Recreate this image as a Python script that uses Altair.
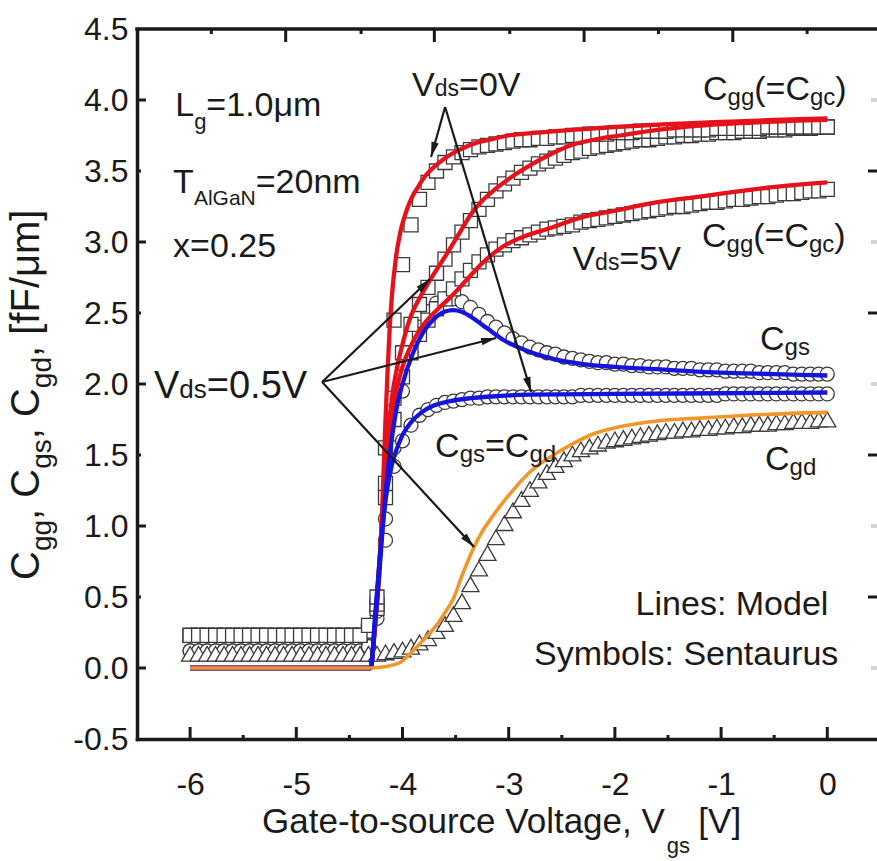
import math
import altair as alt
import pandas as pd

FONT = "Liberation Sans"
INK = "#1a1a1a"
SYM_EDGE = "#3a3a3a"
RED = "#e5121c"
BLUE = "#1414dc"
ORANGE = "#f2952a"

# plot frame (pixels) and axis ranges
PLOT_W, PLOT_H = 740, 710
X_DOMAIN = [-6.5, 0.468]
Y_DOMAIN = [-0.5, 4.5]
PX_PER_V = PLOT_W / (X_DOMAIN[1] - X_DOMAIN[0])
PX_PER_C = PLOT_H / (Y_DOMAIN[1] - Y_DOMAIN[0])

# ---------------------------------------------------------------- data
# Sentaurus sweep points (gate voltage, V)
VGS_SIM = [
    -6.00, -5.92, -5.84, -5.76, -5.68, -5.60, -5.52, -5.44, -5.36, -5.28,
    -5.20, -5.12, -5.04, -4.96, -4.88, -4.80, -4.72, -4.64, -4.56, -4.48,
    -4.40, -4.32, -4.24, -4.16, -4.08, -4.00, -3.92, -3.84, -3.76, -3.68,
    -3.60, -3.52, -3.44, -3.36, -3.28, -3.20, -3.12, -3.04, -2.96, -2.88,
    -2.80, -2.72, -2.64, -2.56, -2.48, -2.40, -2.32, -2.24, -2.16, -2.08,
    -2.00, -1.92, -1.84, -1.76, -1.68, -1.60, -1.52, -1.44, -1.36, -1.28,
    -1.20, -1.12, -1.04, -0.96, -0.88, -0.80, -0.72, -0.64, -0.56, -0.48,
    -0.40, -0.32, -0.24, -0.16, -0.08, 0.00,
]
CGG_0V_SIM = [
    0.23, 0.23, 0.23, 0.23, 0.23, 0.23, 0.23, 0.23, 0.23, 0.23,
    0.23, 0.23, 0.23, 0.23, 0.23, 0.23, 0.23, 0.23, 0.23, 0.23,
    0.23, 0.30, 0.50, 1.55, 2.45, 2.84, 3.12, 3.30, 3.42, 3.50,
    3.56, 3.60, 3.63, 3.65, 3.67, 3.68, 3.69, 3.70, 3.71, 3.72,
    3.72, 3.73, 3.73, 3.74, 3.74, 3.75, 3.75, 3.76, 3.76, 3.76,
    3.77, 3.77, 3.77, 3.78, 3.78, 3.78, 3.78, 3.79, 3.79, 3.79,
    3.79, 3.79, 3.80, 3.80, 3.80, 3.80, 3.80, 3.80, 3.81, 3.81,
    3.81, 3.81, 3.81, 3.81, 3.81, 3.81,
]
CGG_05V_SIM = [
    0.23, 0.23, 0.23, 0.23, 0.23, 0.23, 0.23, 0.23, 0.23, 0.23,
    0.23, 0.23, 0.23, 0.23, 0.23, 0.23, 0.23, 0.23, 0.23, 0.23,
    0.23, 0.26, 0.45, 1.30, 1.90, 2.22, 2.42, 2.56, 2.68, 2.78,
    2.88, 2.98, 3.07, 3.15, 3.23, 3.30, 3.36, 3.41, 3.45, 3.49,
    3.52, 3.55, 3.57, 3.59, 3.61, 3.63, 3.64, 3.66, 3.67, 3.68,
    3.69, 3.70, 3.71, 3.72, 3.72, 3.73, 3.74, 3.74, 3.75, 3.75,
    3.76, 3.76, 3.77, 3.77, 3.77, 3.78, 3.78, 3.78, 3.79, 3.79,
    3.79, 3.80, 3.80, 3.80, 3.81, 3.81,
]
CGG_5V_SIM = [
    0.23, 0.23, 0.23, 0.23, 0.23, 0.23, 0.23, 0.23, 0.23, 0.23,
    0.23, 0.23, 0.23, 0.23, 0.23, 0.23, 0.23, 0.23, 0.23, 0.23,
    0.23, 0.26, 0.42, 1.20, 1.75, 2.05, 2.22, 2.35, 2.45, 2.53,
    2.60, 2.67, 2.74, 2.80, 2.86, 2.91, 2.95, 2.98, 3.01, 3.03,
    3.05, 3.07, 3.09, 3.10, 3.11, 3.12, 3.14, 3.15, 3.16, 3.17,
    3.18, 3.19, 3.20, 3.21, 3.22, 3.23, 3.24, 3.25, 3.25, 3.26,
    3.27, 3.28, 3.28, 3.29, 3.30, 3.30, 3.31, 3.32, 3.32, 3.33,
    3.34, 3.34, 3.35, 3.36, 3.36, 3.37,
]
CGS_05V_SIM = [
    0.12, 0.12, 0.12, 0.12, 0.12, 0.12, 0.12, 0.12, 0.12, 0.12,
    0.12, 0.12, 0.12, 0.12, 0.12, 0.12, 0.12, 0.12, 0.12, 0.12,
    0.12, 0.15, 0.35, 0.90, 1.55, 1.95, 2.22, 2.40, 2.51, 2.57,
    2.60, 2.60, 2.58, 2.54, 2.49, 2.44, 2.40, 2.36, 2.32, 2.29,
    2.26, 2.24, 2.22, 2.21, 2.19, 2.18, 2.17, 2.16, 2.15, 2.15,
    2.14, 2.14, 2.13, 2.13, 2.12, 2.12, 2.12, 2.11, 2.11, 2.11,
    2.10, 2.10, 2.10, 2.09, 2.09, 2.09, 2.09, 2.08, 2.08, 2.08,
    2.08, 2.07, 2.07, 2.07, 2.07, 2.07,
]
CGS_EQ_CGD_0V_SIM = [
    0.12, 0.12, 0.12, 0.12, 0.12, 0.12, 0.12, 0.12, 0.12, 0.12,
    0.12, 0.12, 0.12, 0.12, 0.12, 0.12, 0.12, 0.12, 0.12, 0.12,
    0.12, 0.15, 0.40, 1.05, 1.42, 1.60, 1.71, 1.78, 1.82, 1.85,
    1.87, 1.88, 1.89, 1.90, 1.90, 1.91, 1.91, 1.91, 1.91, 1.91,
    1.91, 1.91, 1.91, 1.91, 1.91, 1.91, 1.92, 1.92, 1.92, 1.92,
    1.92, 1.92, 1.92, 1.92, 1.92, 1.92, 1.92, 1.92, 1.92, 1.92,
    1.92, 1.92, 1.92, 1.93, 1.93, 1.93, 1.93, 1.93, 1.93, 1.93,
    1.93, 1.93, 1.93, 1.93, 1.93, 1.93,
]
CGD_05V_SIM = [
    0.10, 0.10, 0.10, 0.10, 0.10, 0.10, 0.10, 0.10, 0.10, 0.10,
    0.10, 0.10, 0.10, 0.10, 0.10, 0.10, 0.10, 0.10, 0.10, 0.10,
    0.10, 0.10, 0.10, 0.11, 0.12, 0.13, 0.15, 0.18, 0.21, 0.26,
    0.31, 0.38, 0.47, 0.59, 0.70, 0.81, 0.92, 1.02, 1.11, 1.19,
    1.26, 1.32, 1.38, 1.43, 1.47, 1.51, 1.54, 1.56, 1.58, 1.60,
    1.61, 1.62, 1.63, 1.64, 1.65, 1.66, 1.67, 1.67, 1.68, 1.68,
    1.69, 1.69, 1.70, 1.70, 1.71, 1.71, 1.72, 1.72, 1.72, 1.73,
    1.73, 1.74, 1.74, 1.74, 1.75, 1.75,
]

# compact model curves
MODEL_GG_0V_V = [-6.00, -4.30, -4.27, -4.24, -4.22, -4.20, -4.18, -4.16, -4.14, -4.12,
                 -4.10, -4.06, -4.02, -3.98, -3.92, -3.86, -3.78, -3.70, -3.60, -3.46,
                 -3.30, -3.18, -3.00, -2.73, -2.40, -2.00, -1.50, -1.00, -0.50, 0.00]
MODEL_GG_0V_C = [0.00, 0.00, 0.20, 0.45, 0.65, 0.95, 1.35, 1.75, 2.10, 2.40,
                 2.62, 2.90, 3.07, 3.18, 3.30, 3.38, 3.47, 3.53, 3.59, 3.65,
                 3.70, 3.72, 3.75, 3.77, 3.79, 3.81, 3.83, 3.845, 3.86, 3.87]
MODEL_GG_05V_V = [-6.00, -4.30, -4.26, -4.22, -4.18, -4.14, -4.10, -4.05, -4.00, -3.92,
                  -3.85, -3.75, -3.58, -3.45, -3.36, -3.25, -3.13, -2.95, -2.80, -2.60,
                  -2.42, -2.20, -1.95, -1.60, -1.20, -0.60, 0.00]
MODEL_GG_05V_C = [0.00, 0.00, 0.30, 0.72, 1.20, 1.60, 1.90, 2.12, 2.28, 2.48,
                  2.59, 2.72, 2.92, 3.08, 3.19, 3.29, 3.37, 3.47, 3.54, 3.62,
                  3.68, 3.72, 3.75, 3.79, 3.82, 3.845, 3.86]
MODEL_GG_5V_V = [-6.00, -4.30, -4.26, -4.22, -4.18, -4.14, -4.10, -4.05, -4.00, -3.90,
                 -3.80, -3.65, -3.55, -3.40, -3.25, -3.05, -2.85, -2.60, -2.33, -2.00,
                 -1.60, -1.20, -0.60, 0.00]
MODEL_GG_5V_C = [0.00, 0.00, 0.30, 0.70, 1.12, 1.48, 1.75, 1.98, 2.12, 2.30,
                 2.42, 2.54, 2.61, 2.73, 2.85, 2.97, 3.04, 3.10, 3.17, 3.22,
                 3.28, 3.32, 3.38, 3.42]
MODEL_GS_05V_V = [-6.00, -4.30, -4.26, -4.22, -4.18, -4.14, -4.10, -4.05, -4.00, -3.90,
                  -3.80, -3.70, -3.60, -3.52, -3.45, -3.35, -3.20, -3.05, -2.85, -2.60,
                  -2.30, -2.00, -1.50, -1.00, -0.50, 0.00]
MODEL_GS_05V_C = [0.00, 0.00, 0.30, 0.65, 1.05, 1.38, 1.62, 1.85, 2.00, 2.22,
                  2.37, 2.46, 2.51, 2.52, 2.51, 2.47, 2.39, 2.31, 2.24, 2.18,
                  2.14, 2.12, 2.10, 2.08, 2.07, 2.06]
MODEL_GS_EQ_GD_0V_V = [-6.00, -4.30, -4.26, -4.22, -4.18, -4.14, -4.10, -4.05, -4.00, -3.92,
                       -3.82, -3.70, -3.55, -3.36, -3.10, -2.80, -2.00, -1.00, 0.00]
MODEL_GS_EQ_GD_0V_C = [0.00, 0.00, 0.35, 0.72, 1.05, 1.28, 1.43, 1.55, 1.64, 1.73,
                       1.80, 1.85, 1.88, 1.90, 1.915, 1.925, 1.93, 1.935, 1.94]
MODEL_GD_05V_V = [-6.00, -4.30, -4.15, -4.00, -3.93, -3.85, -3.75, -3.67, -3.60, -3.52,
                  -3.44, -3.34, -3.25, -3.15, -3.05, -2.95, -2.80, -2.60, -2.42, -2.20,
                  -1.95, -1.60, -1.20, -0.60, 0.00]
MODEL_GD_05V_C = [0.00, 0.00, 0.01, 0.05, 0.10, 0.16, 0.24, 0.31, 0.39, 0.49,
                  0.65, 0.83, 0.96, 1.07, 1.17, 1.26, 1.38, 1.49, 1.57, 1.65,
                  1.70, 1.74, 1.76, 1.785, 1.80]

# axis ticks
X_LABEL_TICKS = [-6, -5, -4, -3, -2, -1, 0]
X_MINOR_TICKS = [-5.5, -4.5, -3.5, -2.5, -1.5, -0.5]
Y_LABEL_TICKS = [-0.5, 0.0, 0.5, 1.0, 1.5, 2.0, 2.5, 3.0, 3.5, 4.0, 4.5]
Y_MAJOR_TICKS = [0.0, 1.0, 2.0, 3.0, 4.0]
Y_MINOR_TICKS = [0.5, 1.5, 2.5, 3.5]
TOP_LONG_TICKS = [-5.10, -3.70, -2.29, -0.89]
TOP_SHORT_TICKS = [-5.80, -4.39, -2.99, -1.59, -0.19]

# ---------------------------------------------------------------- frames
def sim_frame(series):
    rows = []
    for name, vals in series:
        for v, c in zip(VGS_SIM, vals):
            rows.append({"vgs": v, "c": c, "series": name})
    return pd.DataFrame(rows)


def model_frame(curves):
    rows = []
    for name, vs, cs in curves:
        for v, c in zip(vs, cs):
            rows.append({"vgs": v, "c": c, "curve": name})
    return pd.DataFrame(rows)


circles_df = sim_frame([("Cgs_0.5V", CGS_05V_SIM), ("Cgs=Cgd_0V", CGS_EQ_CGD_0V_SIM)])
squares_df = sim_frame([("Cgg_5V", CGG_5V_SIM), ("Cgg_0.5V", CGG_05V_SIM), ("Cgg_0V", CGG_0V_SIM)])
triangles_df = sim_frame([("Cgd_0.5V", CGD_05V_SIM)])

red_df = model_frame([
    ("Cgg_0V", MODEL_GG_0V_V, MODEL_GG_0V_C),
    ("Cgg_0.5V", MODEL_GG_05V_V, MODEL_GG_05V_C),
    ("Cgg_5V", MODEL_GG_5V_V, MODEL_GG_5V_C),
])
blue_df = model_frame([
    ("Cgs_0.5V", MODEL_GS_05V_V, MODEL_GS_05V_C),
    ("Cgs=Cgd_0V", MODEL_GS_EQ_GD_0V_V, MODEL_GS_EQ_GD_0V_C),
])
orange_df = model_frame([("Cgd_0.5V", MODEL_GD_05V_V, MODEL_GD_05V_C)])

# ---------------------------------------------------------------- scales / axes
xs = alt.Scale(domain=X_DOMAIN, nice=False, zero=False)
ys = alt.Scale(domain=Y_DOMAIN, nice=False, zero=False)

X_AXIS = alt.Axis(
    values=X_LABEL_TICKS, title="", ticks=False, grid=False,
    labelExpr="(datum.value < 0 ? '-' : '') + format(abs(datum.value), 'd')",
    labelFont=FONT, labelFontSize=32, labelColor=INK, labelPadding=30,
    labelFlush=False, domainColor=INK, domainWidth=3.5, domainCap="square",
)
Y_AXIS = alt.Axis(
    values=Y_LABEL_TICKS, title="", ticks=False, grid=False,
    labelExpr="(datum.value < 0 ? '-' : '') + format(abs(datum.value), '.1f')",
    labelFont=FONT, labelFontSize=32, labelColor=INK, labelPadding=9,
    labelFlush=False, domainColor=INK, domainWidth=3.5, domainCap="square",
)


def X(field="vgs"):
    return alt.X(f"{field}:Q", scale=xs, axis=X_AXIS)


def Y(field="c"):
    return alt.Y(f"{field}:Q", scale=ys, axis=Y_AXIS)


# ---------------------------------------------------------------- symbols
def symbols(df, shape, size):
    return alt.Chart(df).mark_point(
        shape=shape, size=size, filled=True, fill="white", stroke=SYM_EDGE,
        strokeWidth=1.3, opacity=1, fillOpacity=1, strokeOpacity=1,
    ).encode(x=X(), y=Y(), detail="series:N")


circle_layer = symbols(circles_df, "circle", 196)
square_layer = symbols(squares_df, "square", 196)
triangle_layer = symbols(triangles_df, "triangle-up", 289)


def model_lines(df, color, width):
    return alt.Chart(df).mark_line(
        color=color, strokeWidth=width, interpolate="monotone"
    ).encode(x=X(), y=Y(), detail="curve:N")


red_layer = model_lines(red_df, RED, 4.3)
blue_layer = model_lines(blue_df, BLUE, 4.3)
orange_layer = model_lines(orange_df, ORANGE, 3.6)

# ---------------------------------------------------------------- arrows
ARROWS = [
    # from the "Vds=0V" label
    (-3.599, 3.951, -3.731, 3.599),
    (-3.599, 3.951, -2.789, 1.944),
    # from the "Vds=0.5V" label
    (-4.757, 2.014, -3.740, 2.739),
    (-4.757, 2.014, -3.119, 2.324),
    (-4.757, 2.014, -3.326, 0.852),
]
arrow_rows, head_rows = [], []
for v0, c0, v1, c1 in ARROWS:
    arrow_rows.append({"vgs": v0, "c": c0, "v1": v1, "c1": c1})
    dx = (v1 - v0) * PX_PER_V
    dy = -(c1 - c0) * PX_PER_C
    ang = math.degrees(math.atan2(dx, -dy)) % 360
    head_rows.append({"vgs": v1, "c": c1, "ang": ang})

arrow_lines = alt.Chart(pd.DataFrame(arrow_rows)).mark_rule(
    color=INK, strokeWidth=2.2
).encode(x=X(), y=Y(), x2="v1:Q", y2="c1:Q")
arrow_heads = alt.Chart(pd.DataFrame(head_rows)).mark_point(
    shape="M0,0L0.5,2L-0.5,2Z", size=225, filled=True, color=INK,
    opacity=1, strokeWidth=0,
).encode(x=X(), y=Y(), angle=alt.Angle("ang:Q", scale=None))

# ---------------------------------------------------------------- frame ticks
def vticks(values, y_from, y_to, color=INK, width=3):
    return alt.Chart(pd.DataFrame({"vgs": values})).mark_rule(
        color=color, strokeWidth=width
    ).encode(x=X(), y=alt.value(y_from), y2=alt.value(y_to))


def hticks(values, x_from, x_to, color=INK, width=3):
    return alt.Chart(pd.DataFrame({"c": values})).mark_rule(
        color=color, strokeWidth=width
    ).encode(y=Y(), x=alt.value(x_from), x2=alt.value(x_to))


tick_layers = [
    vticks(X_LABEL_TICKS, PLOT_H, PLOT_H - 12),
    vticks(X_MINOR_TICKS, PLOT_H, PLOT_H - 4),
    vticks(TOP_LONG_TICKS, 0, 13),
    vticks(TOP_SHORT_TICKS, 0, 5),
    hticks(Y_MAJOR_TICKS, 0, 9),
    hticks(Y_MINOR_TICKS, 0, 4),
    hticks(Y_MINOR_TICKS, PLOT_W - 9, PLOT_W),
    hticks(Y_MAJOR_TICKS, PLOT_W - 6, PLOT_W, color="#d4d4d4", width=4),
]
top_border = alt.Chart(pd.DataFrame({"k": [0]})).mark_rule(
    color=INK, strokeWidth=3.5, strokeCap="square"
).encode(x=alt.value(0), x2=alt.value(PLOT_W), y=alt.value(0))

# ---------------------------------------------------------------- text
ADV = {" ": 278, "(": 333, ")": 333, ",": 278, "-": 333, ".": 278, "/": 278,
       ":": 278, "=": 584, "[": 278, "]": 278, "A": 667, "C": 722, "F": 611,
       "G": 778, "L": 556, "M": 833, "N": 722, "S": 667, "T": 611, "V": 667,
       "a": 556, "b": 556, "c": 500, "d": 556, "e": 556, "f": 278, "g": 556,
       "i": 222, "l": 222, "m": 833, "n": 556, "o": 556, "r": 333, "s": 500,
       "t": 278, "u": 556, "x": 500, "y": 500, "\u03bc": 576}


def advance(text, size):
    return sum(ADV.get(ch, 556) for ch in text) * size / 1000.0


def label(v, c, runs, angle=0, align="left"):
    """Lay out text runs (text, font size, baseline drop in px) from an anchor."""
    total = sum(advance(t, s) for t, s, _ in runs)
    cur = -total if align == "right" else 0.0
    rows = []
    for text, size, drop in runs:
        lead = len(text) - len(text.lstrip(" "))
        start = cur + advance(" " * lead, size)
        if angle == 0:
            rv, rc = v + start / PX_PER_V, c - drop / PX_PER_C
        else:
            rv, rc = v + drop / PX_PER_V, c + start / PX_PER_C
        rows.append({"vgs": rv, "c": rc, "txt": text.strip(" "), "fs": size, "ang": angle})
        cur += advance(text, size)
    return rows


MAIN = 34
SUB = 24
texts = []
texts += label(-6.14, 3.887, [("L", MAIN, 0), ("g", 22, 13), ("=1.0\u03bcm", MAIN, 0)])
texts += label(-6.16, 3.345, [("T", MAIN, 0), ("AlGaN", 21, 12), ("=20nm", MAIN, 0)])
texts += label(-6.16, 2.894, [("x=0.25", MAIN, 0)])
texts += label(-3.91, 4.028, [("V", MAIN, 0), ("ds", 23, 0), ("=0V", MAIN, 0)])
texts += label(-1.17, 4.000, [("C", MAIN, 0), ("gg", SUB, 5), ("(=C", MAIN, 0), ("gc", SUB, 5), (")", MAIN, 0)])
texts += label(-1.18, 2.965, [("C", MAIN, 0), ("gg", SUB, 5), ("(=C", MAIN, 0), ("gc", SUB, 5), (")", MAIN, 0)])
texts += label(-2.40, 2.800, [("V", MAIN, 0), ("ds", 23, 0), ("=5V", MAIN, 0)])
texts += label(-0.633, 2.240, [("C", MAIN, 0), ("gs", SUB, 5)])
texts += label(-0.586, 1.394, [("C", MAIN, 0), ("gd", SUB, 5)])
texts += label(-6.34, 1.901, [("V", 38, 0), ("ds", 26, 0), ("=0.5V", 38, 0)])
texts += label(-3.693, 1.486, [("C", MAIN, 0), ("gs", SUB, 5), ("=C", MAIN, 0), ("gd", SUB, 5)])
texts += label(0.010, 0.373, [("Lines: Model", MAIN, 0)], align="right")
texts += label(0.104, 0.021, [("Symbols: Sentaurus", MAIN, 0)], align="right")
# axis titles
texts += label(-5.322, -1.162, [("Gate-to-source Voltage, V", 35, 0), ("gs", 22, 20), (" [V]", 30, 0)])
texts[-1]["fs"] = 35
texts += label(-7.42, 0.62, [("C", 40, 0), ("gg", 28, 12), (", C", 40, 0), ("gs", 28, 12),
                             (", C", 40, 0), ("gd", 28, 12), (", [fF/\u03bcm]", 40, 0)], angle=270)

text_layer = alt.Chart(pd.DataFrame(texts)).mark_text(
    align="left", baseline="alphabetic", font=FONT, color=INK
).encode(
    x=X(), y=Y(), text="txt:N",
    size=alt.Size("fs:Q", scale=None),
    angle=alt.Angle("ang:Q", scale=None),
)

chart = alt.layer(
    circle_layer, square_layer, triangle_layer,
    red_layer, blue_layer, orange_layer,
    arrow_lines, arrow_heads,
    *tick_layers, top_border,
    text_layer,
).properties(
    width=PLOT_W, height=PLOT_H,
    padding={"left": 137, "top": 29, "right": 0, "bottom": 122},
    autosize=alt.AutoSizeParams(type="none"),
    background="white",
).configure_view(strokeWidth=0)

chart.save("out.html", embed_options={"renderer": "svg", "actions": False})
